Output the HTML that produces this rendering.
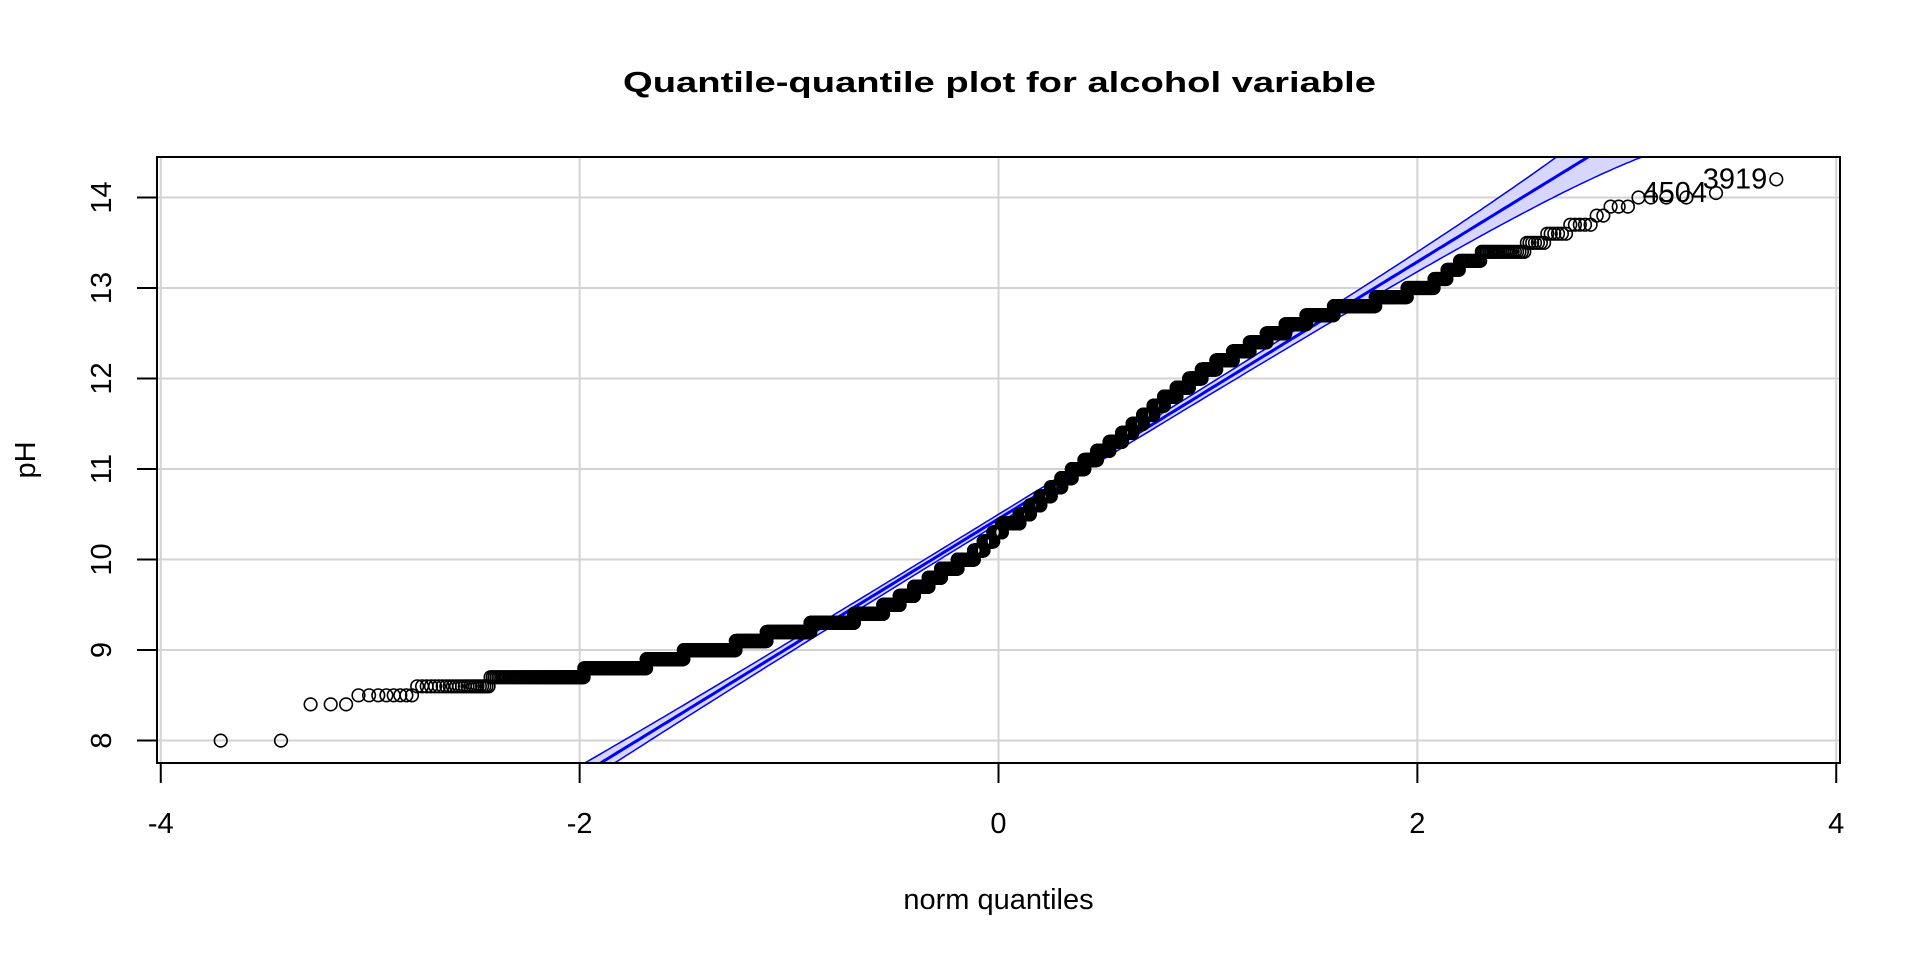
<!DOCTYPE html>
<html><head><meta charset="utf-8">
<style>
html,body{margin:0;padding:0;background:#fff;width:1920px;height:960px;overflow:hidden;}
svg{display:block;font-family:"Liberation Sans",Arial,sans-serif;}
</style></head>
<body>
<svg id="chart" xmlns="http://www.w3.org/2000/svg" width="1920" height="960" viewBox="0 0 1920 960">
<rect x="0" y="0" width="1920" height="960" fill="#fff"/>
<text x="999.5" y="92" text-anchor="middle" font-size="29" font-weight="bold" textLength="753" lengthAdjust="spacingAndGlyphs">Quantile-quantile plot for alcohol variable</text>
<text x="998.5" y="909" text-anchor="middle" font-size="29">norm quantiles</text>
<text transform="translate(35,460) rotate(-90)" text-anchor="middle" font-size="29">pH</text>
<defs><clipPath id="plotclip"><rect x="157" y="157" width="1683" height="606"/></clipPath></defs>
<g id="grid"></g>
<g id="band" clip-path="url(#plotclip)"></g>
<g id="points" clip-path="url(#plotclip)"></g>
<g id="labels"></g>
<rect x="157" y="157" width="1683" height="606" fill="none" stroke="#000" stroke-width="2"/>
<g id="axes"></g>
</svg>
<script>
const alcoholLevels = [8.0,8.4,8.5,8.6,8.7,8.8,8.9,9.0,9.1,9.2,9.3,9.4,9.5,9.6,9.7,9.8,9.9,10.0,10.1,10.2,10.3,10.4,10.5,10.6,10.7,10.8,10.9,11.0,11.1,11.2,11.3,11.4,11.5,11.6,11.7,11.8,11.9,12.0,12.1,12.2,12.3,12.4,12.5,12.6,12.7,12.8,12.9,13.0,13.1,13.2,13.3,13.4,13.5,13.6,13.7,13.8,13.9,14.0,14.05,14.2];
const levelCounts = [2,3,8,24,80,110,98,188,144,247,296,225,135,122,126,112,150,150,90,90,80,164,97,96,95,94,93,109,107,103,100,81,79,75,73,84,79,76,82,87,80,73,73,71,79,92,51,33,13,11,16,23,7,6,5,2,3,4,1,1];
const refLine = [10.45, 1.42]; // intercept, slope
const xTicks = [-4,-2,0,2,4];
const yTicks = [8,9,10,11,12,13,14];
const xTickLabels = ["-4","-2","0","2","4"];
const yTickLabels = ["8","9","10","11","12","13","14"];
const pointLabels = ["4504","3919"];

const NS = "http://www.w3.org/2000/svg";
const X0=157, X1=1840, Y0=157, Y1=763;
const xMin=-4.018, xMax=4.018, yMin=7.752, yMax=14.448;
function sx(v){return X0+(v-xMin)/(xMax-xMin)*(X1-X0);}
function sy(v){return Y1-(v-yMin)/(yMax-yMin)*(Y1-Y0);}
function mk(tag,attrs,parent){const e=document.createElementNS(NS,tag);for(const k in attrs)e.setAttribute(k,attrs[k]);parent.appendChild(e);return e;}

function qnorm(p){
  const a=[-3.969683028665376e+01,2.209460984245205e+02,-2.759285104469687e+02,1.383577518672690e+02,-3.066479806614716e+01,2.506628277459239e+00];
  const b=[-5.447609879822406e+01,1.615858368580409e+02,-1.556989798598866e+02,6.680131188771972e+01,-1.328068155288572e+01];
  const c=[-7.784894002430293e-03,-3.223964580411365e-01,-2.400758277161838e+00,-2.549732539343734e+00,4.374664141464968e+00,2.938163982698783e+00];
  const d=[7.784695709041462e-03,3.224671290700398e-01,2.445134137142996e+00,3.754408661907416e+00];
  const pl=0.02425;let q,r;
  if(p<pl){q=Math.sqrt(-2*Math.log(p));return (((((c[0]*q+c[1])*q+c[2])*q+c[3])*q+c[4])*q+c[5])/((((d[0]*q+d[1])*q+d[2])*q+d[3])*q+1);}
  if(p>1-pl){q=Math.sqrt(-2*Math.log(1-p));return -(((((c[0]*q+c[1])*q+c[2])*q+c[3])*q+c[4])*q+c[5])/((((d[0]*q+d[1])*q+d[2])*q+d[3])*q+1);}
  q=p-0.5;r=q*q;return (((((a[0]*r+a[1])*r+a[2])*r+a[3])*r+a[4])*r+a[5])*q/(((((b[0]*r+b[1])*r+b[2])*r+b[3])*r+b[4])*r+1);
}
function pnorm(z){
  const t=1/(1+0.2316419*Math.abs(z));
  const dd=0.3989422804*Math.exp(-z*z/2);
  let p=dd*t*(0.3193815+t*(-0.3565638+t*(1.781478+t*(-1.821256+t*1.330274))));
  return z>0?1-p:p;
}
function dnorm(z){return 0.3989422804*Math.exp(-z*z/2);}

const grid=document.getElementById('grid');
xTicks.forEach(v=>{const l=mk('line',{x1:sx(v),x2:sx(v),y1:Y0,y2:Y1,stroke:'#d3d3d3','stroke-width':2},grid);

});
yTicks.forEach(v=>{const l=mk('line',{x1:X0,x2:X1,y1:sy(v),y2:sy(v),stroke:'#d3d3d3','stroke-width':2},grid);

});

const values=[];
alcoholLevels.forEach((v,i)=>{for(let k=0;k<levelCounts[i];k++)values.push(v);});
const n=values.length;

const band=document.getElementById('band');
const zs=[];for(let z=-2.2;z<=3.101;z+=0.02)zs.push(z);
const upper=[],lower=[],mid=[];
zs.forEach(z=>{const P=pnorm(z);const fit=refLine[0]+refLine[1]*z;
  const se=(refLine[1]/dnorm(z))*Math.sqrt(P*(1-P)/n);
  upper.push([sx(z),sy(fit+1.96*se)]);lower.push([sx(z),sy(fit-1.96*se)]);mid.push([sx(z),sy(fit)]);});
const pts=a=>a.map(p=>p[0].toFixed(1)+','+p[1].toFixed(1)).join(' ');
const poly=mk('polygon',{points:pts(upper)+' '+pts(lower.slice().reverse()),fill:'#d6d6ff',stroke:'none'},band);


const up=mk('polyline',{points:pts(upper),fill:'none',stroke:'#0000ff','stroke-width':1.5},band);


const lo=mk('polyline',{points:pts(lower),fill:'none',stroke:'#0000ff','stroke-width':1.5},band);


const ml=mk('polyline',{points:pts(mid),fill:'none',stroke:'#0000ff','stroke-width':3},band);



const pg=document.getElementById('points');
const qs=[];
for(let i=0;i<n;i++){qs.push(qnorm((i+0.5)/n));}
for(let i=0;i<n;i++){
  const c=document.createElementNS(NS,'circle');
  c.setAttribute('cx',sx(qs[i]).toFixed(1));c.setAttribute('cy',sy(values[i]).toFixed(1));
  c.setAttribute('r','6.3');c.setAttribute('fill','none');c.setAttribute('stroke','#000');c.setAttribute('stroke-width','1.6');
  
  
  pg.appendChild(c);
}

const lg=document.getElementById('labels');
pointLabels.forEach((lab,j)=>{
  const idx=n-pointLabels.length+j;
  const t=mk('text',{x:sx(qs[idx])-9,y:sy(values[idx])+9,'text-anchor':'end','font-size':29},lg);
  t.textContent=lab;
  
  
});

const ax=document.getElementById('axes');
const xl=mk('line',{x1:sx(xTicks[0]),x2:sx(xTicks[xTicks.length-1]),y1:Y1,y2:Y1,stroke:'#000','stroke-width':2},ax);


xTicks.forEach((v,i)=>{
  const t=mk('line',{x1:sx(v),x2:sx(v),y1:Y1,y2:Y1+20,stroke:'#000','stroke-width':2},ax);
  
  
  const tx=mk('text',{x:sx(v),y:833,'text-anchor':'middle','font-size':29},ax);
  tx.textContent=xTickLabels[i];
  
  
});
const yl=mk('line',{x1:X0,x2:X0,y1:sy(yTicks[0]),y2:sy(yTicks[yTicks.length-1]),stroke:'#000','stroke-width':2},ax);


yTicks.forEach((v,i)=>{
  const t=mk('line',{x1:X0-20,x2:X0,y1:sy(v),y2:sy(v),stroke:'#000','stroke-width':2},ax);
  
  
  const tx=mk('text',{transform:'translate(111,'+sy(v)+') rotate(-90)','text-anchor':'middle','font-size':29},ax);
  tx.textContent=yTickLabels[i];
  
  
});
</script>
</body></html>
